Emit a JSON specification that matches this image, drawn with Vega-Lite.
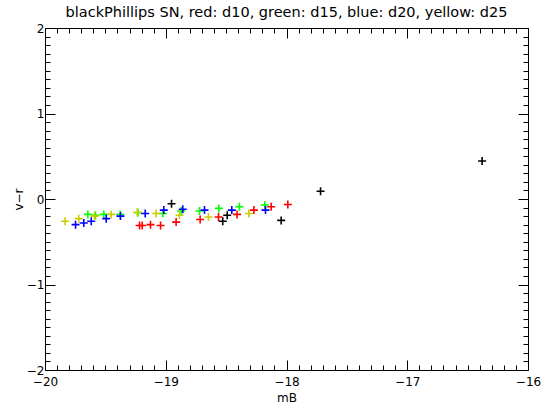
{
  "$schema": "https://vega.github.io/schema/vega-lite/v6.json",
  "autosize": "none",
  "width": 483,
  "height": 342,
  "padding": {"left": 45, "top": 28, "right": 14, "bottom": 35},
  "background": "white",
  "config": {"view": {"stroke": null}, "font": "DejaVu Sans"},
  "title": {"text": "blackPhillips SN, red: d10, green: d15, blue: d20, yellow: d25", "font": "DejaVu Sans", "fontSize": 14.5, "fontWeight": "normal", "color": "black", "anchor": "middle", "offset": 2},
  "data": {"values": [
    {"mB": -19.217, "vr": -0.31, "set": "red"},
    {"mB": -19.195, "vr": -0.31, "set": "red"},
    {"mB": -19.126, "vr": -0.30, "set": "red"},
    {"mB": -19.043, "vr": -0.31, "set": "red"},
    {"mB": -18.914, "vr": -0.27, "set": "red"},
    {"mB": -18.715, "vr": -0.24, "set": "red"},
    {"mB": -18.563, "vr": -0.21, "set": "red"},
    {"mB": -18.41, "vr": -0.18, "set": "red"},
    {"mB": -18.27, "vr": -0.13, "set": "red"},
    {"mB": -18.127, "vr": -0.09, "set": "red"},
    {"mB": -17.989, "vr": -0.065, "set": "red"},
    {"mB": -19.645, "vr": -0.18, "set": "green"},
    {"mB": -19.582, "vr": -0.19, "set": "green"},
    {"mB": -19.513, "vr": -0.18, "set": "green"},
    {"mB": -19.377, "vr": -0.18, "set": "green"},
    {"mB": -19.23, "vr": -0.16, "set": "green"},
    {"mB": -19.024, "vr": -0.17, "set": "green"},
    {"mB": -18.872, "vr": -0.14, "set": "green"},
    {"mB": -18.72, "vr": -0.14, "set": "green"},
    {"mB": -18.56, "vr": -0.11, "set": "green"},
    {"mB": -18.39, "vr": -0.09, "set": "green"},
    {"mB": -18.18, "vr": -0.07, "set": "green"},
    {"mB": -19.747, "vr": -0.30, "set": "blue"},
    {"mB": -19.679, "vr": -0.28, "set": "blue"},
    {"mB": -19.617, "vr": -0.26, "set": "blue"},
    {"mB": -19.493, "vr": -0.23, "set": "blue"},
    {"mB": -19.375, "vr": -0.20, "set": "blue"},
    {"mB": -19.17, "vr": -0.17, "set": "blue"},
    {"mB": -19.016, "vr": -0.13, "set": "blue"},
    {"mB": -18.859, "vr": -0.12, "set": "blue"},
    {"mB": -18.679, "vr": -0.13, "set": "blue"},
    {"mB": -18.453, "vr": -0.13, "set": "blue"},
    {"mB": -18.174, "vr": -0.13, "set": "blue"},
    {"mB": -19.833, "vr": -0.26, "set": "yellow"},
    {"mB": -19.72, "vr": -0.23, "set": "yellow"},
    {"mB": -19.59, "vr": -0.20, "set": "yellow"},
    {"mB": -19.452, "vr": -0.18, "set": "yellow"},
    {"mB": -19.236, "vr": -0.155, "set": "yellow"},
    {"mB": -19.08, "vr": -0.17, "set": "yellow"},
    {"mB": -18.886, "vr": -0.19, "set": "yellow"},
    {"mB": -18.646, "vr": -0.21, "set": "yellow"},
    {"mB": -18.312, "vr": -0.17, "set": "yellow"},
    {"mB": -18.952, "vr": -0.055, "set": "black"},
    {"mB": -18.528, "vr": -0.26, "set": "black"},
    {"mB": -18.491, "vr": -0.19, "set": "black"},
    {"mB": -18.044, "vr": -0.25, "set": "black"},
    {"mB": -17.718, "vr": 0.09, "set": "black"},
    {"mB": -16.38, "vr": 0.445, "set": "black"}
  ]},
  "resolve": {"axis": {"x": "independent", "y": "independent"}},
  "layer": [
    {
      "mark": {"type": "point", "shape": "M-1,0H1M0,-1V1", "size": 64, "strokeWidth": 1.6, "filled": false, "opacity": 1},
      "encoding": {
        "x": {"field": "mB", "type": "quantitative", "scale": {"domain": [-20, -16], "nice": false, "zero": false},
          "axis": {"orient": "bottom", "title": "mB", "titleFont": "DejaVu Sans", "titleFontSize": 12, "titleFontWeight": "normal", "titleColor": "black", "titlePadding": 0,
            "values": [-20,-19.9,-19.8,-19.7,-19.6,-19.5,-19.4,-19.3,-19.2,-19.1,-19,-18.9,-18.8,-18.7,-18.6,-18.5,-18.4,-18.3,-18.2,-18.1,-18,-17.9,-17.8,-17.7,-17.6,-17.5,-17.4,-17.3,-17.2,-17.1,-17,-16.9,-16.8,-16.7,-16.6,-16.5,-16.4,-16.3,-16.2,-16.1,-16],
            "labelExpr": "abs(datum.value-round(datum.value))<0.001 ? format(datum.value,'d') : ''",
            "labelFont": "DejaVu Sans", "labelFontSize": 12, "labelColor": "black", "labelPadding": 16, "labelFlush": false, "labelOverlap": false,
            "tickSize": {"condition": {"test": "abs(datum.value-round(datum.value))<0.001", "value": -10}, "value": -5},
            "tickColor": "black", "domainColor": "black", "grid": false}},
        "y": {"field": "vr", "type": "quantitative", "scale": {"domain": [-2, 2], "nice": false, "zero": false},
          "axis": {"orient": "left", "title": "v−r", "titleFont": "DejaVu Sans", "titleFontSize": 12, "titleFontWeight": "normal", "titleColor": "black", "titlePadding": 1,
            "values": [-2,-1.9,-1.8,-1.7,-1.6,-1.5,-1.4,-1.3,-1.2,-1.1,-1,-0.9,-0.8,-0.7,-0.6,-0.5,-0.4,-0.3,-0.2,-0.1,0,0.1,0.2,0.3,0.4,0.5,0.6,0.7,0.8,0.9,1,1.1,1.2,1.3,1.4,1.5,1.6,1.7,1.8,1.9,2],
            "labelExpr": "abs(datum.value-round(datum.value))<0.001 ? format(datum.value,'d') : ''",
            "labelFont": "DejaVu Sans", "labelFontSize": 12, "labelColor": "black", "labelPadding": 11, "labelFlush": false, "labelOverlap": false,
            "tickSize": {"condition": {"test": "abs(datum.value-round(datum.value))<0.001", "value": -10}, "value": -5},
            "tickColor": "black", "domainColor": "black", "grid": false}},
        "color": {"field": "set", "type": "nominal", "legend": null,
          "scale": {"domain": ["black", "red", "green", "blue", "yellow"], "range": ["#000000", "#ff0000", "#00ff00", "#0000ff", "#cccc00"]}}
      }
    },
    {
      "mark": {"type": "point", "opacity": 0},
      "encoding": {
        "x": {"field": "mB", "type": "quantitative",
          "axis": {"orient": "top", "title": null, "labels": false,
            "values": [-20,-19.9,-19.8,-19.7,-19.6,-19.5,-19.4,-19.3,-19.2,-19.1,-19,-18.9,-18.8,-18.7,-18.6,-18.5,-18.4,-18.3,-18.2,-18.1,-18,-17.9,-17.8,-17.7,-17.6,-17.5,-17.4,-17.3,-17.2,-17.1,-17,-16.9,-16.8,-16.7,-16.6,-16.5,-16.4,-16.3,-16.2,-16.1,-16],
            "tickSize": {"condition": {"test": "abs(datum.value-round(datum.value))<0.001", "value": -10}, "value": -5},
            "tickColor": "black", "domainColor": "black", "grid": false}},
        "y": {"field": "vr", "type": "quantitative",
          "axis": {"orient": "right", "title": null, "labels": false,
            "values": [-2,-1.9,-1.8,-1.7,-1.6,-1.5,-1.4,-1.3,-1.2,-1.1,-1,-0.9,-0.8,-0.7,-0.6,-0.5,-0.4,-0.3,-0.2,-0.1,0,0.1,0.2,0.3,0.4,0.5,0.6,0.7,0.8,0.9,1,1.1,1.2,1.3,1.4,1.5,1.6,1.7,1.8,1.9,2],
            "tickSize": {"condition": {"test": "abs(datum.value-round(datum.value))<0.001", "value": -10}, "value": -5},
            "tickColor": "black", "domainColor": "black", "grid": false}}
      }
    }
  ]
}
